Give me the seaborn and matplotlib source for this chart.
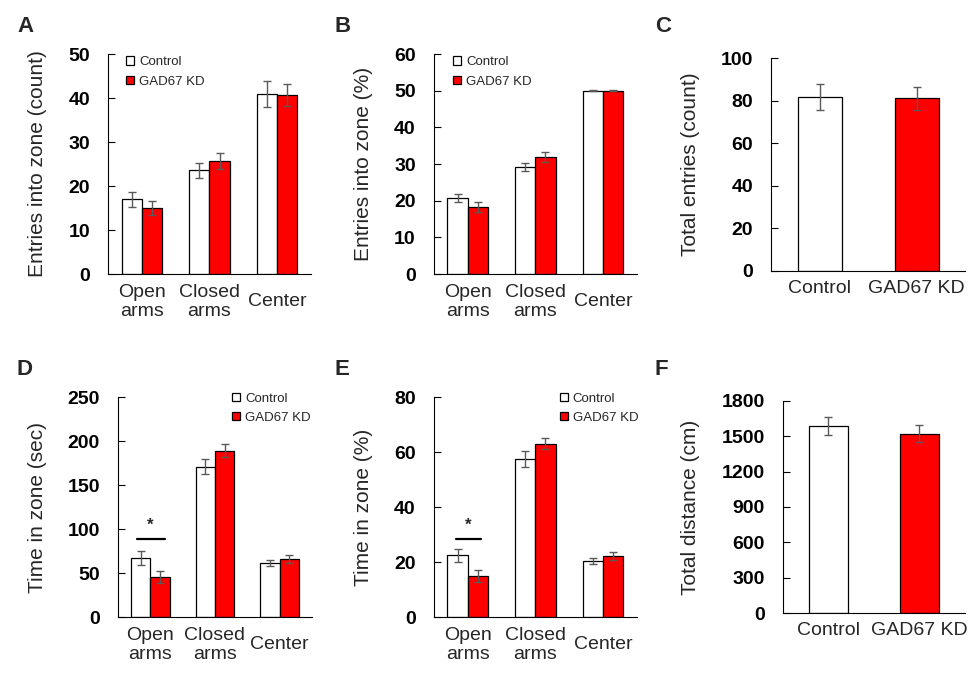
import matplotlib
matplotlib.use("Agg")
import matplotlib.pyplot as plt
from matplotlib.container import BarContainer
import seaborn as sns
import pandas as pd

# ---------------- data ----------------
zones = ["Open\narms", "Closed\narms", "Center"]
groups = ["Control", "GAD67 KD"]

a_ctrl = [17.0, 23.6, 40.9]
a_ctrl_err = [1.7, 1.7, 3.0]
a_kd = [15.0, 25.7, 40.7]
a_kd_err = [1.6, 1.75, 2.6]

b_ctrl = [20.7, 29.2, 50.0]
b_ctrl_err = [1.05, 1.1, 0.1]
b_kd = [18.3, 31.9, 50.0]
b_kd_err = [1.4, 1.4, 0.1]

c_vals = [81.7, 81.2]
c_err = [6.1, 5.4]

d_ctrl = [66.8, 171.0, 61.2]
d_ctrl_err = [7.7, 9.0, 3.4]
d_kd = [45.3, 189.2, 65.7]
d_kd_err = [6.6, 7.0, 4.3]

e_ctrl = [22.5, 57.4, 20.4]
e_ctrl_err = [2.4, 3.0, 1.15]
e_kd = [14.9, 63.1, 22.1]
e_kd_err = [2.05, 2.1, 1.45]

f_vals = [1588, 1521]
f_err = [76, 72]

# ---------------- style ----------------
sns.set_style("ticks")
plt.rcParams["font.family"] = ["Liberation Sans", "DejaVu Sans"]

palette = {"Control": "white", "GAD67 KD": "#ff0000"}
ERR_COLOR = "#5a5a5a"

fig = plt.figure(figsize=(9.75, 6.8), dpi=100)


def style_axes(ax, ylim, step, ylabel, label_x, xpad, ncat):
    ax.set_xlim(-0.5, ncat - 0.5)
    ax.set_ylim(0, ylim)
    ax.set_yticks(list(range(0, ylim + 1, step)))
    ax.set_yticklabels([str(v) for v in range(0, ylim + 1, step)],
                       fontsize=14, fontweight="bold")
    ax.tick_params(axis="y", direction="in", length=5, width=0.8, pad=13,
                   colors="black")
    ax.tick_params(axis="x", length=0, pad=xpad)
    for lab in ax.get_xticklabels():
        lab.set_fontsize(14)
        lab.set_verticalalignment("center")
        lab.set_linespacing(1.2)
    ax.set_xlabel("")
    ax.set_ylabel(ylabel, fontsize=15)
    ax.yaxis.set_label_coords(label_x, 0.5)
    for s in ["top", "right"]:
        ax.spines[s].set_visible(False)
    for s in ["left", "bottom"]:
        ax.spines[s].set_linewidth(0.8)
        ax.spines[s].set_color("black")


def grouped_panel(rect, ctrl, ctrl_err, kd, kd_err, ylim, step, ylabel,
                  label_x, legend_anchor):
    ax = fig.add_axes(rect)
    df = pd.DataFrame({
        "zone": zones * 2,
        "group": [groups[0]] * 3 + [groups[1]] * 3,
        "value": ctrl + kd,
    })
    sns.barplot(data=df, x="zone", y="value", hue="group", order=zones,
                hue_order=groups, palette=palette, saturation=1,
                edgecolor="black", linewidth=0.9, errorbar=None, width=0.6,
                ax=ax)
    errs = [ctrl_err, kd_err]
    bar_conts = [c for c in ax.containers if isinstance(c, BarContainer)]
    for h, cont in enumerate(bar_conts):
        for bar in list(cont.patches):
            xc = bar.get_x() + bar.get_width() / 2
            idx = int(round(xc))
            ax.errorbar(xc, bar.get_height(), yerr=errs[h][idx],
                        fmt="none", ecolor=ERR_COLOR, elinewidth=1.0,
                        capsize=3, capthick=1.0, zorder=5)
    handles, labels = ax.get_legend_handles_labels()
    ax.legend(handles, labels, loc="upper left", bbox_to_anchor=legend_anchor,
              frameon=False, fontsize=9.5, handlelength=0.6, handleheight=0.6,
              handletextpad=0.4, labelspacing=0.55, borderpad=0,
              borderaxespad=0)
    style_axes(ax, ylim, step, ylabel, label_x, 20, len(zones))
    return ax


def single_panel(rect, vals, err, ylim, step, ylabel, label_x, width):
    ax = fig.add_axes(rect)
    df = pd.DataFrame({"group": groups, "value": vals})
    sns.barplot(data=df, x="group", y="value", hue="group", order=groups,
                hue_order=groups, palette=palette, saturation=1,
                edgecolor="black", linewidth=0.9, errorbar=None, width=width,
                legend=False, ax=ax)
    for bar in list(ax.patches):
        h = bar.get_height()
        if not h == h or h == 0:
            continue
        xc = bar.get_x() + bar.get_width() / 2
        idx = int(round(xc))
        ax.errorbar(xc, h, yerr=err[idx], fmt="none", ecolor=ERR_COLOR,
                    elinewidth=1.0, capsize=3, capthick=1.0, zorder=5)
    style_axes(ax, ylim, step, ylabel, label_x, 12.5, len(groups))
    return ax


axA = grouped_panel([0.1108, 0.597, 0.208, 0.3235], a_ctrl, a_ctrl_err,
                    a_kd, a_kd_err, 50, 10, "Entries into zone (count)",
                    -0.30, (0.089, 0.99))
axB = grouped_panel([0.445, 0.597, 0.208, 0.3235], b_ctrl, b_ctrl_err,
                    b_kd, b_kd_err, 60, 10, "Entries into zone (%)",
                    -0.30, (0.094, 0.99))
axC = single_panel([0.791, 0.6015, 0.199, 0.313], c_vals, c_err, 100, 20,
                   "Total entries (count)", -0.366, 0.45)
axD = grouped_panel([0.121, 0.0926, 0.199, 0.3235], d_ctrl, d_ctrl_err,
                    d_kd, d_kd_err, 250, 50, "Time in zone (sec)",
                    -0.366, (0.588, 1.02))
axE = grouped_panel([0.445, 0.0926, 0.208, 0.3235], e_ctrl, e_ctrl_err,
                    e_kd, e_kd_err, 80, 20, "Time in zone (%)",
                    -0.30, (0.62, 1.02))
axF = single_panel([0.803, 0.0985, 0.1867, 0.312], f_vals, f_err, 1800, 300,
                   "Total distance (cm)", -0.456, 0.42)

# significance markers
axD.plot([-0.2, 0.22], [88.7, 88.7], color="black", lw=1.6, zorder=6)
axD.text(0.0, 96, "*", ha="center", va="bottom", fontsize=12,
         fontweight="bold")
axE.plot([-0.18, 0.19], [28.4, 28.4], color="black", lw=1.6, zorder=6)
axE.text(0.0, 30.6, "*", ha="center", va="bottom", fontsize=12,
         fontweight="bold")

# panel letters
for letter, (px, py) in {"A": (17, 16), "B": (335, 16), "C": (655, 16),
                         "D": (17, 359), "E": (335, 359),
                         "F": (655, 359)}.items():
    fig.text(px / 975, 1 - py / 680, letter, fontsize=16, fontweight="bold",
             ha="left", va="top")

fig.savefig("out.png", dpi=100, facecolor="white")
